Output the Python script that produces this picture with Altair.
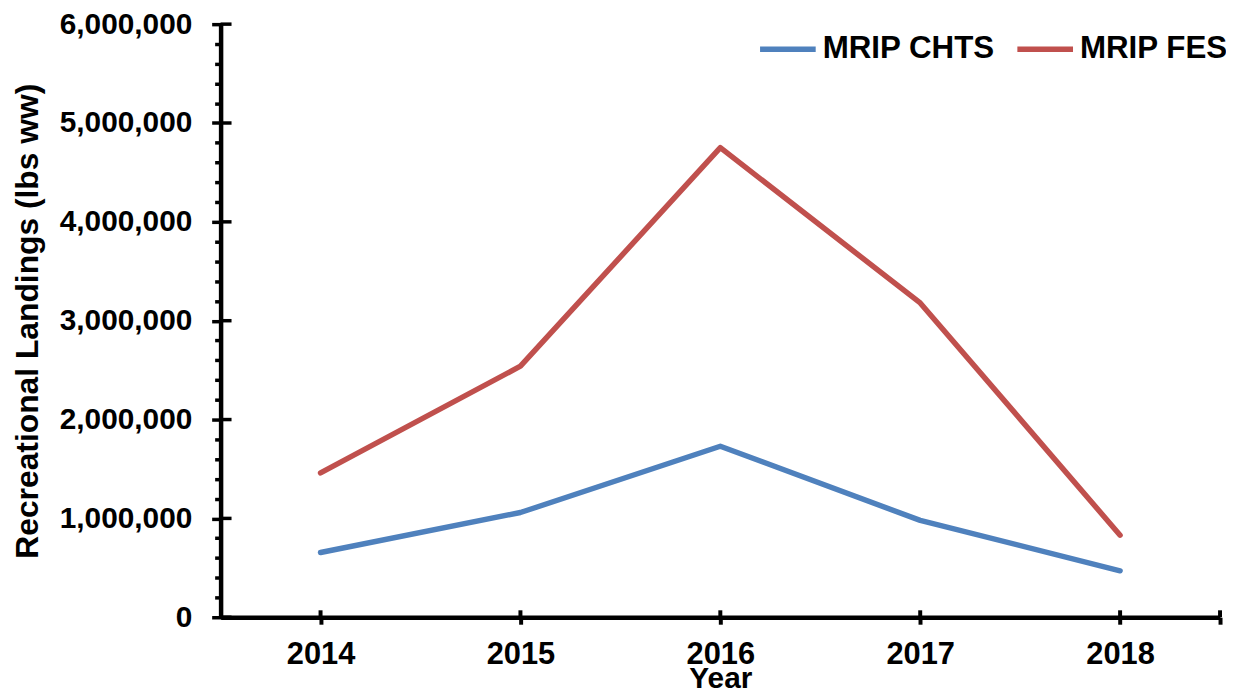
import altair as alt
import pandas as pd

years = [2014, 2015, 2016, 2017, 2018]
chts = [655000, 1060000, 1730000, 980000, 470000]
fes = [1460000, 2540000, 4750000, 3180000, 830000]
series_names = ["MRIP CHTS", "MRIP FES"]
colors = ["#4F81BD", "#C0504D"]

y_major = [0, 1000000, 2000000, 3000000, 4000000, 5000000, 6000000]
y_all = list(range(0, 6000001, 200000))
x_ticks = [2014, 2015, 2016, 2017, 2018, 2018.5]

FONT = "Liberation Sans"
W, H = 1006, 597

df = pd.DataFrame({
    "Year": years * 2,
    "Value": chts + fes,
    "Series": [series_names[0]] * len(years) + [series_names[1]] * len(years),
})

xscale = alt.Scale(domain=[2013.5, 2018.5], nice=False, zero=False)
yscale = alt.Scale(domain=[0, 6000000], nice=False)

xaxis = alt.Axis(
    values=x_ticks,
    labelExpr="datum.value % 1 === 0 ? datum.value : ''",
    title="Year", titleFont=FONT, titleFontSize=30, titleFontWeight="bold",
    titleColor="black", titleY=71, titleBaseline="alphabetic",
    labelFont=FONT, labelFontSize=31, labelFontWeight="bold", labelColor="black",
    labelPadding=16, tickSize=7, tickWidth=4, tickColor="black",
    domainColor="black", domainWidth=4.5, grid=False, labelFlush=False,
)
yaxis = alt.Axis(
    values=y_all,
    labelExpr="datum.value % 1000000 === 0 ? format(datum.value, ',') : ''",
    title="Recreational Landings (lbs ww)", titleFont=FONT, titleFontSize=32,
    titleFontWeight="bold", titleColor="black", titleX=-194, titleBaseline="middle",
    labelFont=FONT, labelFontSize=30, labelFontWeight="bold", labelColor="black",
    labelPadding=20,
    tickSize={"condition": {"test": "datum.value % 1000000 === 0", "value": 9}, "value": 6},
    tickWidth=3.5, tickColor="black",
    domainColor="black", domainWidth=4.5, grid=False,
)

lines = alt.Chart(df).mark_line(strokeWidth=5.5, strokeCap="round", strokeJoin="round").encode(
    x=alt.X("Year:Q", scale=xscale, axis=xaxis),
    y=alt.Y("Value:Q", scale=yscale, axis=yaxis),
    color=alt.Color("Series:N", scale=alt.Scale(domain=series_names, range=colors),
                    legend=alt.Legend(
                        title=None, orient="none", legendX=540, legendY=-6,
                        direction="horizontal", symbolType="stroke", symbolSize=3136,
                        symbolStrokeWidth=5.5, labelFont=FONT, labelFontSize=31.5,
                        labelFontWeight="bold", labelColor="black", labelOffset=4,
                        columnPadding=11, padding=0, labelLimit=400,
                    )),
)

ymaj_df = pd.DataFrame({"Value": y_major})
y_inner = alt.Chart(ymaj_df).mark_rule(strokeWidth=3.5, color="black").encode(
    y=alt.Y("Value:Q", scale=yscale, axis=yaxis),
    x=alt.value(0),
    x2=alt.value(11),
)

xt_df = pd.DataFrame({"Year": x_ticks})
x_inner = alt.Chart(xt_df).mark_rule(strokeWidth=4, color="black").encode(
    x=alt.X("Year:Q", scale=xscale, axis=xaxis),
    y=alt.value(H),
    y2=alt.value(H - 7),
)

chart = alt.layer(lines, y_inner, x_inner).properties(
    width=W, height=H,
    background="white",
    autosize=alt.AutoSizeParams(type="none"),
    padding={"left": 214, "top": 14, "right": 6, "bottom": 76},
).configure_view(stroke=None)

chart.save("out.html", embed_options={"renderer": "svg", "actions": False})
